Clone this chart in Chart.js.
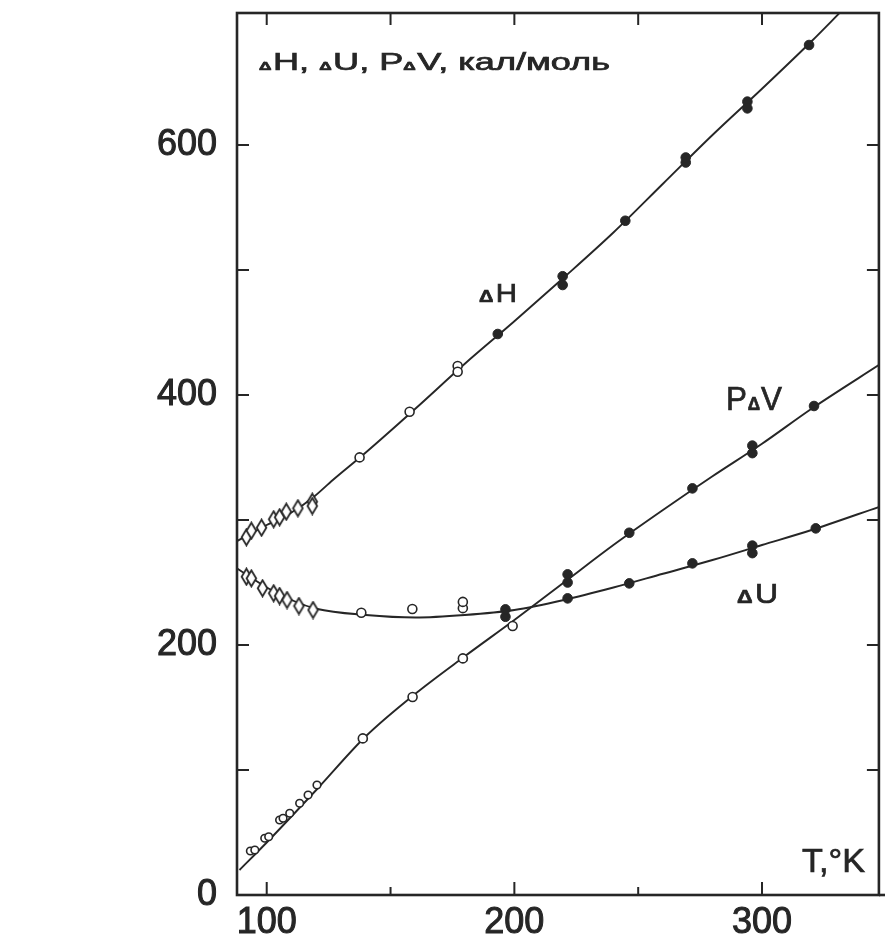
<!DOCTYPE html>
<html>
<head>
<meta charset="utf-8">
<script src="https://cdn.jsdelivr.net/npm/chart.js@4.4.1/dist/chart.umd.min.js"></script>
<style>
  html, body { margin: 0; padding: 0; background: #fff; }
  canvas { display: block; }
</style>
</head>
<body>
<canvas id="grafico" width="885" height="934"></canvas>
<script>
// Scale: T in °K sull'asse x, energia in кал/моль sull'asse y
var limitiT = [88, 347.2];
var limitiE = [0, 705.6];
var tickT = [100, 200, 300];
var tickTMinori = [150, 250];
var tickE = [0, 200, 400, 600];
var tickEMinori = [100, 300, 500];

// ΔH - curva liscia
var curvaH_T = [87.5, 100, 110, 118.7, 126.7, 140, 160, 180, 200, 220, 240, 260, 280, 300, 320, 332];
var curvaH_v = [282.6, 296, 306, 318, 332, 354, 389, 425, 459, 494, 530, 569, 608, 645, 683, 707];
// ΔH - punti sperimentali (rombi, cerchi vuoti, cerchi pieni)
var rombiH_T = [91.8, 93.8, 97.9, 102.8, 105.2, 107.9, 112.6, 118.4, 118.4];
var rombiH_v = [286.2, 291.4, 293.8, 300.6, 302.2, 306.6, 309.4, 314.6, 311.2];
var vuotiH_T = [137.5, 157.7, 177.1, 177.1];
var vuotiH_v = [350.1, 386.6, 423.2, 418.6];
var pieniH_T = [193.3, 219.5, 219.5, 244.8, 269.2, 269.2, 294.1, 294.1, 319];
var pieniH_v = [448.8, 488, 495, 539.4, 586, 590, 634.7, 629.3, 680];

// ΔU
var curvaU_T = [87.5, 100, 110, 120, 140, 160, 180, 200, 220, 240, 260, 280, 300, 320, 348];
var curvaU_v = [262, 246, 236, 229, 224, 222, 224, 228, 236, 246, 257, 268, 280, 292, 311];
var rombiU_T = [91.8, 93.8, 98.3, 102.8, 105.2, 108.2, 113.0, 118.7];
var rombiU_v = [254.6, 253.3, 245.4, 241.4, 239.2, 236, 231.2, 228];
var vuotiU_T = [138.2, 158.8, 179.2, 179.2];
var vuotiU_v = [225.8, 228.8, 229.5, 234.5];
var pieniU_T = [196.4, 221.5, 246.4, 271.9, 296.1, 296.1, 321.7];
var pieniU_v = [228.5, 237.3, 249.3, 265.3, 273.5, 279.5, 293.3];

// PΔV
var curvaV_T = [89, 100, 120, 140, 160, 180, 200, 220, 240, 260, 280, 300, 320, 348];
var curvaV_v = [20, 42, 84, 127, 161, 191, 220, 250, 280, 308, 335, 361, 389, 425];
var anelliV_T = [93.4, 95.2, 99.2, 100.8, 105.2, 106.6, 109.3, 113.3, 116.7, 120.3];
var anelliV_v = [35.2, 36, 45.4, 46.6, 60, 61.4, 65.4, 73.4, 80, 88];
var vuotiV_T = [138.8, 158.9, 179.2, 199.3];
var vuotiV_v = [125.3, 158.4, 189.3, 215.2];
var pieniV_T = [196.4, 221.5, 221.5, 246.4, 271.9, 296.1, 296.1, 321];
var pieniV_v = [222.6, 250, 256.5, 289.8, 325.3, 353.5, 359.5, 391.2];

var inchiostro = "#262626";
var famiglia = "'Liberation Sans', Arial, sans-serif";

function punti(xs, ys) {
    return xs.map(function (x, i) { return { x: x, y: ys[i] }; });
}

// rombo allungato usato per i punti a bassa temperatura
function creaRombo() {
    var c = document.createElement("canvas");
    c.width = 13; c.height = 19;
    var g = c.getContext("2d");
    g.strokeStyle = inchiostro;
    g.fillStyle = "#fff";
    g.lineWidth = 1.8;
    g.beginPath();
    g.moveTo(6.5, 1.5); g.lineTo(11.3, 9.5); g.lineTo(6.5, 17.5); g.lineTo(1.7, 9.5);
    g.closePath();
    g.fill(); g.stroke();
    return c;
}
var rombo = creaRombo();

function curva(xs, ys) {
    return {
        type: "line", data: punti(xs, ys),
        borderColor: inchiostro, borderWidth: 1.9,
        pointRadius: 0, cubicInterpolationMode: "monotone", fill: false, order: 2
    };
}
function serieRombi(xs, ys) {
    return { type: "scatter", data: punti(xs, ys), pointStyle: rombo, order: 1 };
}
function serieVuoti(xs, ys, r) {
    return {
        type: "scatter", data: punti(xs, ys), pointStyle: "circle", pointRadius: r || 4.5,
        backgroundColor: "#fff", borderColor: inchiostro, borderWidth: 1.6, order: 1
    };
}
function seriePieni(xs, ys) {
    return {
        type: "scatter", data: punti(xs, ys), pointStyle: "circle", pointRadius: 4.8,
        backgroundColor: inchiostro, borderColor: inchiostro, borderWidth: 1, order: 1
    };
}

// testo a pezzi (il Δ piccolo); se c'è una larghezza, il testo viene allargato in orizzontale
function scriviPezzi(ctx, x, y, pezzi, larghezza) {
    ctx.save();
    ctx.textBaseline = "alphabetic";
    ctx.textAlign = "left";
    ctx.strokeStyle = inchiostro;
    ctx.lineWidth = 0.7;
    var font = function (p) { return (p[3] || "normal") + " " + p[1] + "px " + famiglia; };
    var totale = 0;
    pezzi.forEach(function (p) {
        ctx.font = font(p);
        totale += ctx.measureText(p[0]).width + (p[2] || 0);
    });
    var k = larghezza ? larghezza / totale : 1;
    ctx.translate(x, y);
    ctx.scale(k, 1);
    var cx = 0;
    pezzi.forEach(function (p) {
        ctx.font = font(p);
        ctx.fillText(p[0], cx, 0);
        ctx.strokeText(p[0], cx, 0);
        cx += ctx.measureText(p[0]).width + (p[2] || 0);
    });
    ctx.restore();
}

var cornice = {
    id: "cornice",
    beforeDatasetsDraw: function (chart) {
        var ctx = chart.ctx, a = chart.chartArea;
        var sx = chart.scales.x, sy = chart.scales.y;
        ctx.save();
        ctx.strokeStyle = inchiostro;
        ctx.lineWidth = 2.6;
        ctx.strokeRect(a.left, a.top, a.right - a.left, a.bottom - a.top);
        ctx.beginPath();
        ctx.moveTo(a.right, a.bottom); ctx.lineTo(chart.width, a.bottom);
        ctx.stroke();
        ctx.lineWidth = 2;
        ctx.beginPath();
        // tacche verso l'interno su tutti i lati
        tickT.concat(tickTMinori).forEach(function (t) {
            var px = sx.getPixelForValue(t);
            var l = tickT.indexOf(t) >= 0 ? 13 : 8;
            ctx.moveTo(px, a.bottom); ctx.lineTo(px, a.bottom - l);
            ctx.moveTo(px, a.top); ctx.lineTo(px, a.top + 12);
        });
        tickE.concat(tickEMinori).forEach(function (v) {
            if (v === 0) return;
            var py = sy.getPixelForValue(v);
            ctx.moveTo(a.left, py); ctx.lineTo(a.left + 12, py);
            ctx.moveTo(a.right, py); ctx.lineTo(a.right - 12, py);
        });
        ctx.stroke();
        ctx.restore();
    },
    afterDatasetsDraw: function (chart) {
        var ctx = chart.ctx;
        ctx.save();
        ctx.fillStyle = inchiostro;
        scriviPezzi(ctx, 259, 70, [["Δ", 11, 1, "bold"], ["H, ", 23], ["Δ", 11, 1, "bold"], ["U, P", 23], ["Δ", 11, 1, "bold"], ["V, кал/моль", 23]], 351);
        scriviPezzi(ctx, 479, 302, [["Δ", 17, 2, "bold"], ["H", 25]], 38);
        scriviPezzi(ctx, 726, 410, [["P", 33, 1], ["Δ", 18, 1, "bold"], ["V", 33]], 56);
        scriviPezzi(ctx, 737, 603, [["Δ", 19, 2, "bold"], ["U", 28]], 41);
        scriviPezzi(ctx, 802, 872, [["T,°K", 34]], 63);
        ctx.restore();
    }
};

new Chart(document.getElementById("grafico").getContext("2d"), {
    data: {
        datasets: [
            curva(curvaH_T, curvaH_v),
            curva(curvaU_T, curvaU_v),
            curva(curvaV_T, curvaV_v),
            serieRombi(rombiH_T, rombiH_v),
            serieVuoti(vuotiH_T, vuotiH_v),
            seriePieni(pieniH_T, pieniH_v),
            serieRombi(rombiU_T, rombiU_v),
            serieVuoti(vuotiU_T, vuotiU_v),
            seriePieni(pieniU_T, pieniU_v),
            serieVuoti(anelliV_T, anelliV_v, 3.8),
            serieVuoti(vuotiV_T, vuotiV_v),
            seriePieni(pieniV_T, pieniV_v)
        ]
    },
    plugins: [cornice],
    options: {
        responsive: false,
        devicePixelRatio: 1,
        animation: false,
        layout: { padding: { top: 13, right: 5, bottom: 0, left: 0 } },
        plugins: { legend: { display: false }, tooltip: { enabled: false } },
        scales: {
            x: {
                type: "linear", min: limitiT[0], max: limitiT[1],
                grid: { display: false }, border: { display: false },
                afterBuildTicks: function (s) { s.ticks = tickT.map(function (v) { return { value: v }; }); },
                afterFit: function (s) { s.height = 39; },
                ticks: {
                    padding: 2, color: inchiostro, maxRotation: 0, autoSkip: false,
                    textStrokeColor: inchiostro, textStrokeWidth: 1,
                    font: { family: famiglia, size: 36, lineHeight: 1 }
                }
            },
            y: {
                type: "linear", min: limitiE[0], max: limitiE[1],
                grid: { display: false }, border: { display: false },
                afterBuildTicks: function (s) { s.ticks = tickE.map(function (v) { return { value: v }; }); },
                afterFit: function (s) { s.width = 237; s.paddingTop = 0; s.paddingBottom = 0; },
                ticks: {
                    padding: 12, color: inchiostro, autoSkip: false,
                    textStrokeColor: inchiostro, textStrokeWidth: 1,
                    font: { family: famiglia, size: 36, lineHeight: 0.01 }
                }
            }
        }
    }
});
</script>
</body>
</html>
